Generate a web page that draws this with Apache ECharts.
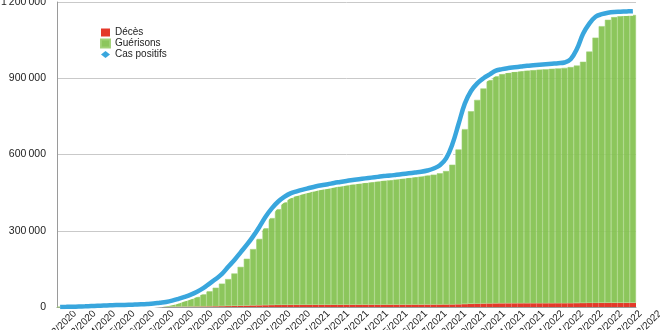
<!DOCTYPE html>
<html>
<head>
<meta charset="utf-8">
<script src="https://cdn.jsdelivr.net/npm/echarts@6/dist/echarts.min.js"></script>
<style>
html,body{margin:0;padding:0;background:#fff;}
#chart{width:660px;height:330px;}
</style>
</head>
<body>
<div id="chart"></div>
<script>
// Categories (dates)
const dates = [
'02/03/2020','10/03/2020','18/03/2020','26/03/2020','03/04/2020','11/04/2020','19/04/2020','27/04/2020','05/05/2020','13/05/2020',
'21/05/2020','29/05/2020','06/06/2020','14/06/2020','22/06/2020','30/06/2020','08/07/2020','16/07/2020','24/07/2020','01/08/2020',
'09/08/2020','17/08/2020','25/08/2020','02/09/2020','10/09/2020','18/09/2020','26/09/2020','04/10/2020','12/10/2020','20/10/2020',
'28/10/2020','05/11/2020','13/11/2020','21/11/2020','29/11/2020','07/12/2020','15/12/2020','23/12/2020','31/12/2020',
'08/01/2021','18/01/2021','28/01/2021','07/02/2021','17/02/2021','27/02/2021','09/03/2021','19/03/2021','29/03/2021','08/04/2021',
'18/04/2021','28/04/2021','08/05/2021','18/05/2021','28/05/2021','07/06/2021','17/06/2021','27/06/2021','07/07/2021','17/07/2021',
'27/07/2021','06/08/2021','16/08/2021','26/08/2021','05/09/2021','15/09/2021','25/09/2021','05/10/2021','15/10/2021','25/10/2021',
'04/11/2021','14/11/2021','24/11/2021','04/12/2021','14/12/2021','24/12/2021',
'03/01/2022','08/01/2022','13/01/2022','18/01/2022','23/01/2022','28/01/2022','02/02/2022','07/02/2022','12/02/2022','17/02/2022',
'22/02/2022','27/02/2022','04/03/2022','09/03/2022','14/03/2022','19/03/2022','24/03/2022','29/03/2022'
];
// Tick labels shown under the axis
const tickLabels = dates.filter((d, i) => i % 3 === 0);

// Series values
const deces = [
0,0,100,100,200,200,200,200,200,200,
200,300,300,300,400,500,500,600,800,1000,
1200,1500,1800,2100,2400,2800,3200,3700,4200,4800,
5400,6000,6600,7100,7500,7800,8000,8200,8300,8400,
8500,8500,8600,8600,8700,8700,8800,8800,8900,8900,
9000,9000,9000,9100,9100,9200,9200,9300,9300,9400,
9500,9600,9800,10100,10600,11300,12100,12900,13500,13900,
14200,14400,14500,14600,14700,14700,14800,14800,14800,14800,
14900,14900,15000,15200,15500,15800,16000,16100,16100,16100,
16100,16100,16100
];
const guerisons = [
0,0,0,0,0,800,800,1800,2800,3800,
4800,5700,6700,7700,8600,10500,12500,14400,17200,21000,
25800,31500,38200,47900,59600,73200,88800,106300,127800,153200,
184600,222000,261400,302900,342500,377200,404000,421800,431700,445600,
451500,455500,459400,462400,465300,468300,471200,474200,477100,480100,
483000,486000,489000,490900,493900,496800,499800,502700,505700,508600,
511500,516400,525200,549900,609400,688700,757900,802100,846500,879100,
893800,902600,907500,911400,914300,916300,918200,920200,921200,923200,
924100,926100,929000,934800,949500,989200,1044000,1088900,1113900,1124900,
1129900,1131900,1132900
];
const casPositifs = [
100,500,1100,1800,2500,3500,4500,5500,6500,7500,
8000,8500,9500,10500,12000,14000,17000,20000,25000,32000,
40000,49000,60000,74000,92000,110000,130000,158000,185000,215000,
245000,278000,315000,355000,388000,414000,433000,447000,455000,462000,
468000,474000,479000,483000,488000,492000,496000,500000,503000,506000,
509000,512000,515000,517000,520000,523000,526000,529000,532000,537000,
545000,558000,585000,640000,720000,800000,850000,880000,900000,915000,
930000,936000,940000,943000,946000,949000,951000,953000,955000,957000,
959000,962000,975000,1015000,1075000,1115000,1142000,1152000,1158000,1161000,
1162000,1163000,1164000
];

const fmt = v => String(v).replace(/\B(?=(\d{3})+(?!\d))/g, '\u2009');
const font = "'Liberation Sans', Arial, sans-serif";

const chart = echarts.init(document.getElementById('chart'), null, {renderer: 'canvas'});
chart.setOption({
  animation: false,
  backgroundColor: '#fff',
  textStyle: {fontFamily: font},
  legend: {
    orient: 'vertical', left: 100, top: 27, itemWidth: 9, itemHeight: 8, itemGap: 0,
    padding: 0,
    textStyle: {fontSize: 10, lineHeight: 11, color: '#222', fontFamily: font},
    data: [
      {name: 'Décès', icon: 'rect'},
      {name: 'Guérisons', icon: 'rect'},
      {name: 'Cas positifs', icon: 'path://M0,4 L5,0 L10,4 L5,8 Z'}
    ]
  },
  grid: [
    {left: 57, right: 24, top: 2, bottom: 23, outerBoundsMode: 'none', containLabel: false},
    {left: 75, right: 0, top: 2, bottom: 23, outerBoundsMode: 'none', containLabel: false}
  ],
  xAxis: [
    {
      type: 'category', gridIndex: 0, data: dates, boundaryGap: true,
      axisLine: {show: true, lineStyle: {color: '#9a9a9a', width: 1}},
      axisTick: {show: false}, axisLabel: {show: false}, splitLine: {show: false}
    },
    {
      type: 'category', gridIndex: 1, data: tickLabels, boundaryGap: false,
      axisLine: {show: false}, axisTick: {show: false}, splitLine: {show: false},
      axisLabel: {rotate: 45, interval: 0, margin: 5, fontSize: 10, color: '#222', fontFamily: font}
    }
  ],
  yAxis: [
    {
      type: 'value', gridIndex: 0, min: 0, max: 1200000, interval: 300000,
      axisLine: {show: true, lineStyle: {color: '#9a9a9a', width: 1}},
      axisTick: {show: false},
      splitLine: {show: true, lineStyle: {color: '#c9c9c9', width: 1}},
      axisLabel: {formatter: fmt, fontSize: 10.5, color: '#222', margin: 11, fontFamily: font}
    },
    {type: 'value', gridIndex: 1, show: false, min: 0, max: 1}
  ],
  series: [
    {
      name: 'Décès', type: 'bar', stack: 'total', data: deces,
      barCategoryGap: '0%',
      itemStyle: {color: '#e4392a'}
    },
    {
      name: 'Guérisons', type: 'bar', stack: 'total', data: guerisons,
      barCategoryGap: '0%',
      itemStyle: {color: '#86c353', opacity: 0.95, borderColor: '#9fd174', borderWidth: 0.6}
    },
    {
      name: 'contour', type: 'line', data: casPositifs, smooth: 0.4,
      symbol: 'none', silent: true,
      lineStyle: {color: '#ffffff', width: 9}
    },
    {
      name: 'Cas positifs', type: 'line', data: casPositifs, smooth: 0.4,
      symbol: 'none', itemStyle: {color: '#39a6dd'},
      lineStyle: {color: '#39a6dd', width: 4.5}
    }
  ]
});
</script>
</body>
</html>
